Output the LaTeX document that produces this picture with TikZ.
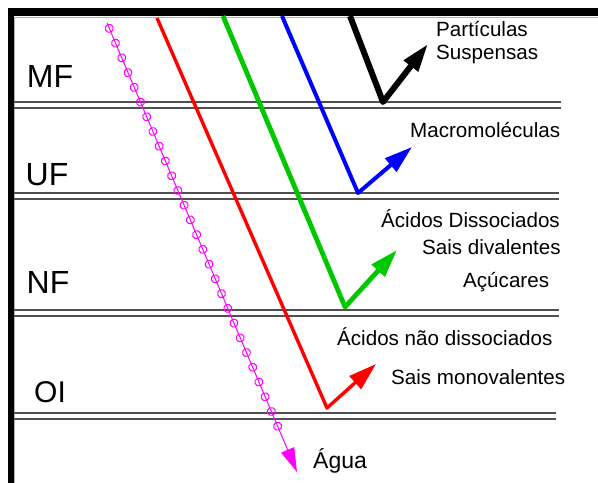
\documentclass[tikz,border=0pt]{standalone}
\usepackage{fontspec}
\setmainfont{Liberation Sans}
\usetikzlibrary{arrows.meta,decorations.markings}
\definecolor{mygreen}{RGB}{0,200,0}
\definecolor{mymag}{RGB}{255,0,255}
\definecolor{lgray}{RGB}{80,80,80}
\begin{document}
\begin{tikzpicture}[x=1bp,y=-1bp,
  dl/.style={draw=lgray,line width=1.6bp},
  biglab/.style={font=\fontsize{32bp}{34bp}\selectfont,inner sep=0pt,anchor=center},
  smalllab/.style={font=\fontsize{20.6bp}{22bp}\selectfont,inner sep=0pt,anchor=west},
  flow/.style={line join=round,-{Triangle[length=28bp,width=17bp]}}]
\useasboundingbox (0,0) rectangle (598,483);
\fill[white] (0,0) rectangle (598,483);
% frame
\fill[black] (8,8) rectangle (598,16.5);
\fill[black] (8,8) rectangle (14,483);
\draw[gray!60,line width=0.8bp] (14.6,483) -- (14.6,17.1) -- (598,17.1);
% double lines
\foreach \ya/\xe in {102/561,193/559,310/559,413/556}{
  \draw[dl] (14,\ya) -- (\xe,\ya);
  \draw[dl] (14,\ya+6) -- (\xe,\ya+6);
}
% layer labels
\node[biglab] (mf) at (50,76) {MF};
\node[biglab] (uf) at (47,175) {UF};
\node[biglab] (nf) at (48,282) {NF};
\node[biglab,font=\fontsize{30bp}{32bp}\selectfont] (oi) at (50,392) {OI};
% coordinates
\coordinate (ms) at (107,23);
\coordinate (me) at (297,472);
\coordinate (rs) at (157,18);
\coordinate (rv) at (327,408);
\coordinate (re) at (376,364);
\coordinate (gs) at (223,16);
\coordinate (gv) at (345,307);
\coordinate (ge) at (397,250);
\coordinate (bs) at (282,16);
\coordinate (bv) at (358,193);
\coordinate (be) at (412,147);
\coordinate (ks) at (350,16);
\coordinate (kv) at (383,102);
\coordinate (ke) at (428,44);
% water path
\draw[mymag,line width=1bp,-{Triangle[length=24bp,width=14bp]},
  postaction={decorate},
  decoration={markings,mark=between positions 0.012 and 0.93 step 16bp with {\draw[mymag,line width=1bp] (0,0) circle (4bp);}}]
  (ms) -- (me);
% flows
\draw[flow,red,line width=3.4bp] (rs) -- (rv) -- (re);
\draw[flow,mygreen,line width=4.8bp] (gs) -- (gv) -- (ge);
\draw[flow,blue,line width=4bp] (bs) -- (bv) -- (be);
\draw[flow,black,line width=6bp] (ks) -- (kv) -- (ke);
% texts
\node[smalllab] (t1) at (436,29) {Partículas};
\node[smalllab] (t2) at (436,54) {Suspensas};
\node[smalllab] (t3) at (410,130) {Macromoléculas};
\node[smalllab] (t4) at (381,219) {Ácidos Dissociados};
\node[smalllab] (t5) at (422,247) {Sais divalentes};
\node[smalllab] (t6) at (463,282) {Açúcares};
\node[smalllab] (t7) at (337,337) {Ácidos não dissociados};
\node[smalllab] (t8) at (391,377) {Sais monovalentes};
\node[smalllab,font=\fontsize{23bp}{25bp}\selectfont] (t9) at (313,461) {Água};
\end{tikzpicture}
\end{document}
